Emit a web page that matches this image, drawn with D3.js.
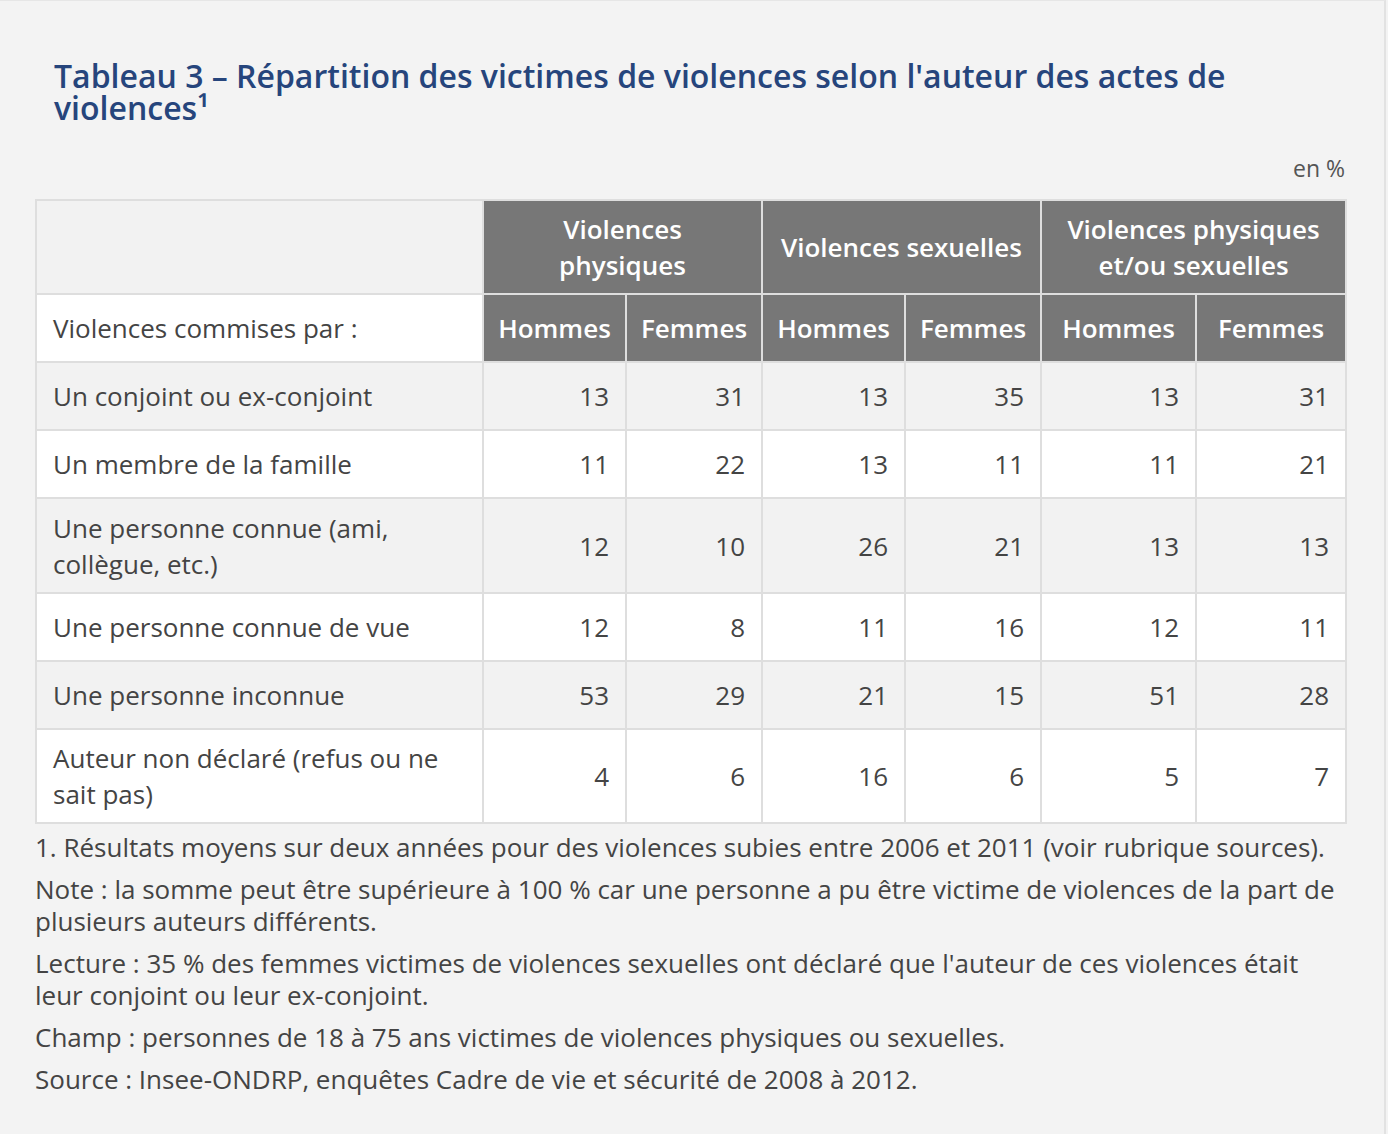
<!DOCTYPE html>
<html>
<head>
<meta charset="utf-8">
<script src="https://cdn.jsdelivr.net/npm/d3@7/dist/d3.min.js"></script>
<style>
  html, body { margin: 0; padding: 0; }
  body { width: 1388px; height: 1134px; background: #f3f3f3; font-family: "Open Sans", sans-serif; position: relative; overflow: hidden; }
  #frame { position: absolute; left: 0; top: 0; width: 1386px; height: 1134px; border-right: 2px solid #e2e2e2; border-top: 1px solid #e6e6e6; box-sizing: border-box; }
  #title { position: absolute; left: 54px; top: 60px; font-size: 32px; font-weight: 600; color: #26457c; line-height: 32px; white-space: nowrap; }
  #unit { position: absolute; right: 43px; top: 152px; font-size: 23px; color: #555; }
  table { position: absolute; left: 35px; top: 199px; border-collapse: collapse; table-layout: fixed; width: 1310px; }
  td, th { border: 2px solid #dedede; font-size: 26px; line-height: 36px; padding: 0 16px; box-sizing: border-box; }
  th { background: #777777; color: #fff; font-weight: 600; text-align: center; padding: 0 6px; }
  th.blank { background: #f2f2f2; }
  td { color: #444; }
  td.lab { text-align: left; }
  td.num { text-align: right; }
  tr.odd td { background: #f2f2f2; }
  tr.even td { background: #ffffff; }
  td.sublab { background: #fff; color: #444; font-weight: 400; text-align: left; }
  #notes { position: absolute; left: 35px; top: 831px; width: 1308px; font-size: 26px; line-height: 32px; color: #444; }
  #notes p { margin: 0 0 10px 0; }
</style>
</head>
<body>
<div id="frame"></div>
<div id="title"></div>
<div id="unit"></div>
<table id="tbl"></table>
<div id="notes"></div>
<script>
const titleLines = ["Tableau 3 – Répartition des victimes de violences selon l'auteur des actes de", "violences¹"];
const unitLabel = "en %";
const groups = ["Violences physiques", "Violences sexuelles", "Violences physiques et/ou sexuelles"];
const sexes = ["Hommes", "Femmes"];
const rowHeaderLabel = "Violences commises par :";
const categories = [
  "Un conjoint ou ex-conjoint",
  "Un membre de la famille",
  "Une personne connue (ami, collègue, etc.)",
  "Une personne connue de vue",
  "Une personne inconnue",
  "Auteur non déclaré (refus ou ne sait pas)"
];
const physHommes = [13, 11, 12, 12, 53, 4];
const physFemmes = [31, 22, 10, 8, 29, 6];
const sexHommes  = [13, 13, 26, 11, 21, 16];
const sexFemmes  = [35, 11, 21, 16, 15, 6];
const bothHommes = [13, 11, 13, 12, 51, 5];
const bothFemmes = [31, 21, 13, 11, 28, 7];
const notes = [
  "1. Résultats moyens sur deux années pour des violences subies entre 2006 et 2011 (voir rubrique sources).",
  "Note : la somme peut être supérieure à 100 % car une personne a pu être victime de violences de la part de plusieurs auteurs différents.",
  "Lecture : 35 % des femmes victimes de violences sexuelles ont déclaré que l'auteur de ces violences était leur conjoint ou leur ex-conjoint.",
  "Champ : personnes de 18 à 75 ans victimes de violences physiques ou sexuelles.",
  "Source : Insee-ONDRP, enquêtes Cadre de vie et sécurité de 2008 à 2012."
];

const colWidths = [447, 143, 136, 143, 136, 155, 150];
const groupHeaderLines = [["Violences", "physiques"], ["Violences sexuelles"], ["Violences physiques", "et/ou sexuelles"]];
const rowHeights = [68, 68, 95, 68, 68, 94];

d3.select("#title").selectAll("div").data(titleLines).join("div").text(d => d);
d3.select("#unit").text(unitLabel);

const tbl = d3.select("#tbl");
tbl.append("colgroup").selectAll("col").data(colWidths).join("col").style("width", d => d + "px");

const thead = tbl.append("thead");
const h1 = thead.append("tr").style("height", "94px");
h1.append("th").attr("class", "blank");
h1.selectAll("th.g").data(groups).join("th").attr("class", "g").attr("colspan", 2)
  .each(function(d, i) {
    const th = d3.select(this);
    groupHeaderLines[i].forEach((l, k) => { if (k) th.append("br"); th.append("span").text(l); });
  });
const h2 = thead.append("tr").style("height", "68px");
h2.append("td").attr("class", "sublab").text(rowHeaderLabel);
h2.selectAll("th.s").data(d3.range(groups.length * 2)).join("th").attr("class", "s").text(i => sexes[i % 2]);

const series = [physHommes, physFemmes, sexHommes, sexFemmes, bothHommes, bothFemmes];
const rows = categories.map((c, i) => ({ label: c, values: series.map(s => s[i]), h: rowHeights[i], i }));
const tbody = tbl.append("tbody");
const tr = tbody.selectAll("tr").data(rows).join("tr")
  .attr("class", d => d.i % 2 === 0 ? "odd" : "even")
  .style("height", d => d.h + "px");
tr.append("td").attr("class", "lab").text(d => d.label);
tr.selectAll("td.num").data(d => d.values).join("td").attr("class", "num").text(d => d);

d3.select("#notes").selectAll("p").data(notes).join("p").text(d => d);
</script>
</body>
</html>
